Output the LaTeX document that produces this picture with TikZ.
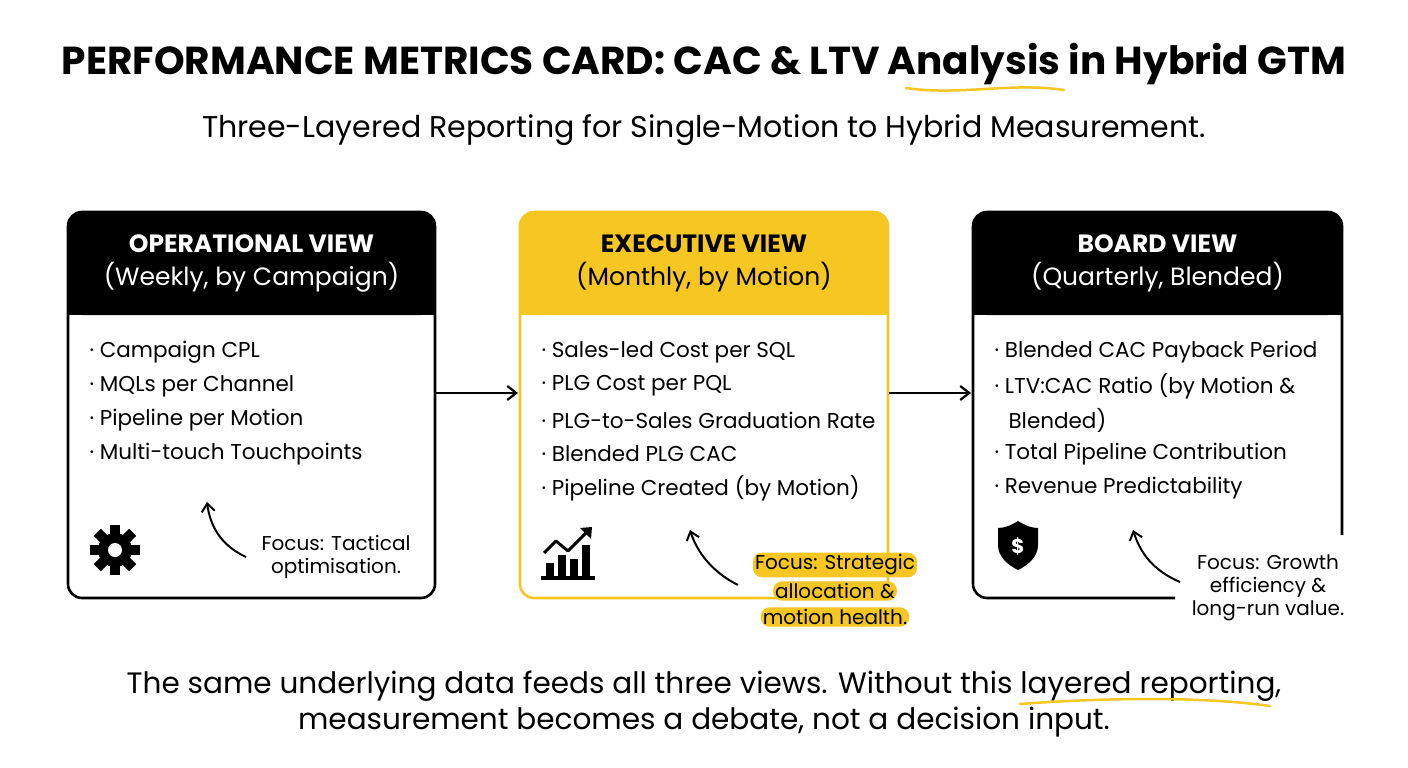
\documentclass[tikz,border=0pt]{standalone}
\usepackage{fontspec}
\setmainfont{Poppins}
\usetikzlibrary{arrows.meta}
\definecolor{ylw}{HTML}{F6C623}
\tikzset{
 card/.style={line width=2.6pt,rounded corners=14pt},
 item/.style={anchor=west,font=\fontsize{21.5}{24}\selectfont},
 hdr/.style={align=center,font=\fontsize{25}{33}\selectfont},
 flow/.style={-{Straight Barb[length=9pt,width=14pt]},line width=2.2pt},
 curv/.style={-{Straight Barb[length=8pt,width=13pt]},line width=2pt},
 focus/.style={align=center,font=\fontsize{20}{23}\selectfont},
 hl/.style={fill=ylw,rounded corners=9pt,inner sep=2pt,font=\fontsize{20}{23}\selectfont},
 uline/.style={draw=ylw,line width=2.5pt,line cap=round}
}
\begin{document}
\begin{tikzpicture}[x=1pt,y=-1pt]
\useasboundingbox[fill=white] (0,0) rectangle (1408,768);
\node (title) at (704,64) {\fontsize{39}{44}\selectfont\bfseries PERFORMANCE METRICS CARD: CAC \& LTV Analysis in Hybrid GTM};
\draw[uline] (906,88) .. controls (960,96) and (1010,82) .. (1064,90);
\node (sub) at (704,130) {\fontsize{30}{34}\selectfont Three-Layered Reporting for Single-Motion to Hybrid Measurement.};
% card 1
\fill[black,rounded corners=14pt] (68,212) rectangle (435,315);
\fill[black] (68,290) rectangle (435,315);
\draw[card] (68,212) rectangle (435,598);
\node[hdr,text=white] (h1) at (251.5,263) {\bfseries OPERATIONAL VIEW\\(Weekly, by Campaign)};
\node[item] (a1) at (86,352) {· Campaign CPL};
\node[item] (a2) at (86,386) {· MQLs per Channel};
\node[item] (a3) at (86,420) {· Pipeline per Motion};
\node[item] (a4) at (86,454) {· Multi-touch Touchpoints};
% gear
\begin{scope}[shift={(115,550)}]
\fill circle (17);
\foreach \a in {0,45,...,315}{\fill[rotate=\a] (-5,-25) rectangle (5,-12);}
\fill[white] circle (7);
\end{scope}
\node[focus] (f1) at (336,557) {Focus: Tactical\\optimisation.};
\coordinate (t1) at (207,502);
\draw[curv] (246,557) .. controls (220,545) and (210,525) .. (t1);
% card 2
\fill[ylw,rounded corners=14pt] (520,212) rectangle (888,315);
\fill[ylw] (520,290) rectangle (888,315);
\draw[card,draw=ylw] (520,212) rectangle (888,598);
\node[hdr] (h2) at (704,263) {\bfseries EXECUTIVE VIEW\\(Monthly, by Motion)};
\node[item] (b1) at (538,352) {· Sales-led Cost per SQL};
\node[item] (b2) at (538,386) {· PLG Cost per PQL};
\node[item] (b3) at (538,420) {· PLG-to-Sales Graduation Rate};
\node[item] (b4) at (538,454) {· Blended PLG CAC};
\node[item] (b5) at (538,488) {· Pipeline Created (by Motion)};
% chart icon
\begin{scope}[shift={(568,555)}]
\fill (-27,21) rectangle (27,25);
\fill (-22,8) rectangle (-14,21);
\fill (-10,0) rectangle (-2,21);
\fill (2,4) rectangle (10,21);
\fill (14,-10) rectangle (22,21);
\draw[line width=3pt,line join=round] (-24,-2) -- (-12,-14) -- (0,-4) -- (20,-24);
\fill (24,-28) -- (12,-27) -- (23,-16) -- cycle;
\end{scope}
\node[hl] (f2a) at (835,565) {Focus: Strategic};
\node[hl] (f2b) at (835,591) {allocation \&};
\node[hl] (f2c) at (835,617) {motion health.};
\coordinate (t2) at (690,530);
\draw[curv] (738,585) .. controls (712,572) and (697,552) .. (t2);
% card 3
\fill[black,rounded corners=14pt] (973,212) rectangle (1342,315);
\fill[black] (973,290) rectangle (1342,315);
\draw[card] (1342,535) -- (1342,212) -- (973,212) -- (973,598) -- (1175,598);
\node[hdr,text=white] (h3) at (1157.5,263) {\bfseries BOARD VIEW\\(Quarterly, Blended)};
\node[item] (c1) at (991,352) {· Blended CAC Payback Period};
\node[item] (c2) at (991,386) {· LTV:CAC Ratio (by Motion \&};
\node[item] (c3) at (1005,420) {Blended)};
\node[item] (c4) at (991,454) {· Total Pipeline Contribution};
\node[item] (c5) at (991,488) {· Revenue Predictability};
% shield
\begin{scope}[shift={(1018,545)}]
\fill (0,-24) .. controls (8,-19) and (14,-17) .. (20,-17) -- (20,0) .. controls (20,12) and (10,20) .. (0,25) .. controls (-10,20) and (-20,12) .. (-20,0) -- (-20,-17) .. controls (-14,-17) and (-8,-19) .. cycle;
\node[text=white,font=\fontsize{20}{20}\selectfont\bfseries] (dol) at (0,1) {\$};
\end{scope}
\node[focus,inner sep=3pt] (f3) at (1268,588) {Focus: Growth\\efficiency \&\\long-run value.};
\coordinate (t3) at (1133,530);
\draw[curv] (1180,582) .. controls (1152,570) and (1140,552) .. (t3);
% flows
\draw[flow] (436,393) -- (518,393);
\draw[flow] (889,393) -- (971,393);
% bottom
\node (bt1) at (704,686) {\fontsize{29.5}{34}\selectfont The same underlying data feeds all three views. Without this layered reporting,};
\node (bt2) at (704,722) {\fontsize{29.5}{34}\selectfont measurement becomes a debate, not a decision input.};
\draw[uline] (1020,704) .. controls (1100,698) and (1200,696) .. (1270,706);
\end{tikzpicture}
\end{document}
